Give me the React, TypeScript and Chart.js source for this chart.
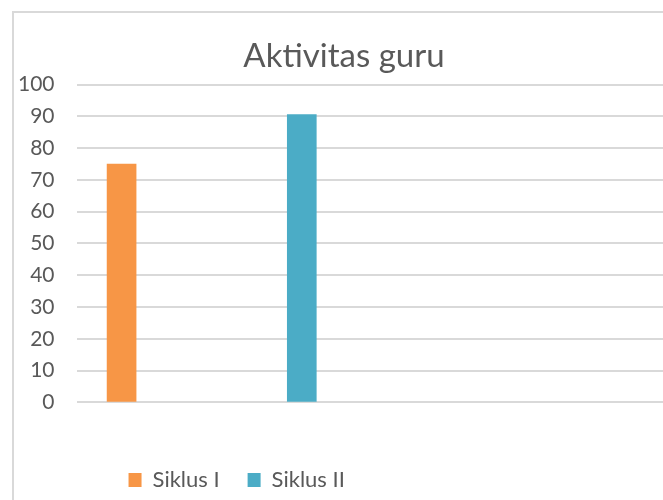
import React, { useEffect, useRef } from "react";
import { Chart, registerables } from "chart.js";

Chart.register(...registerables);

// ---- data ----
const titleText = "Aktivitas guru";
const seriesNames = ["Siklus I", "Siklus II"];
const cycleNumbers = [1, 2];
const scores = [75, 90.6];
const seriesColors = ["#F79646", "#4BACC6"];
const yMin = 0;
const yMax = 100;
const yStep = 10;

const FONT = 'Lato, "Open Sans", sans-serif';
const TEXT = "#595959";

const legendShiftPlugin = {
  id: "legendShift",
  afterLayout(chart: any, _args: any, opts: any) {
    const legend = chart.legend;
    if (!legend || !opts || !opts.dx) return;
    legend.left += opts.dx;
    legend.right += opts.dx;
  },
};

export default function App() {
  const canvasRef = useRef<HTMLCanvasElement | null>(null);

  useEffect(() => {
    if (!canvasRef.current) return;
    const chart = new Chart(canvasRef.current, {
      type: "bar",
      data: {
        datasets: seriesNames.map((name, i) => ({
          label: name,
          data: [{ x: cycleNumbers[i], y: scores[i] }],
          backgroundColor: seriesColors[i],
          borderWidth: 0,
          barThickness: 29,
          grouped: false,
        })),
      },
      plugins: [legendShiftPlugin],
      options: {
        animation: false,
        responsive: true,
        maintainAspectRatio: false,
        layout: { padding: { left: 1, right: 0, top: 0, bottom: 0 } },
        scales: {
          x: {
            type: "linear",
            min: 0.75,
            max: 4.06,
            offset: false,
            display: true,
            grid: { display: false },
            border: { display: false },
            ticks: { display: false, count: 2 },
            afterFit: (scale: any) => {
              scale.height = 38.7;
            },
          },
          y: {
            type: "linear",
            min: yMin,
            max: yMax,
            ticks: {
              stepSize: yStep,
              color: TEXT,
              padding: 3,
              font: { family: FONT, size: 21 },
            },
            grid: {
              color: "#d9d9d9",
              lineWidth: 2,
              drawTicks: true,
              tickLength: 19,
              tickColor: "rgba(0,0,0,0)",
            },
            border: { display: false },
          },
        },
        plugins: {
          title: {
            display: true,
            text: titleText,
            color: TEXT,
            font: { family: FONT, size: 33, weight: "normal" as any },
            padding: { top: 24, bottom: 8 },
          },
          legend: {
            display: true,
            position: "bottom",
            align: "start",
            fullSize: false,
            labels: {
              boxWidth: 13,
              boxHeight: 14,
              padding: 28,
              color: TEXT,
              font: { family: FONT, size: 22 },
            },
          },
          tooltip: { enabled: false },
          legendShift: { dx: 24 },
        } as any,
      },
    } as any);
    return () => chart.destroy();
  }, []);

  return (
    <div
      style={{
        position: "fixed",
        left: 0,
        top: 0,
        width: 663,
        height: 500,
        overflow: "hidden",
        background: "#fff",
      }}
    >
      <div
        style={{
          position: "absolute",
          left: 12,
          top: 11,
          width: 700,
          height: 530,
          border: "2px solid #d9d9d9",
          boxSizing: "border-box",
          background: "#fff",
        }}
      >
        <div style={{ position: "absolute", left: 0, top: 0, width: 659, height: 488 }}>
          <canvas ref={canvasRef} />
        </div>
      </div>
    </div>
  );
}
